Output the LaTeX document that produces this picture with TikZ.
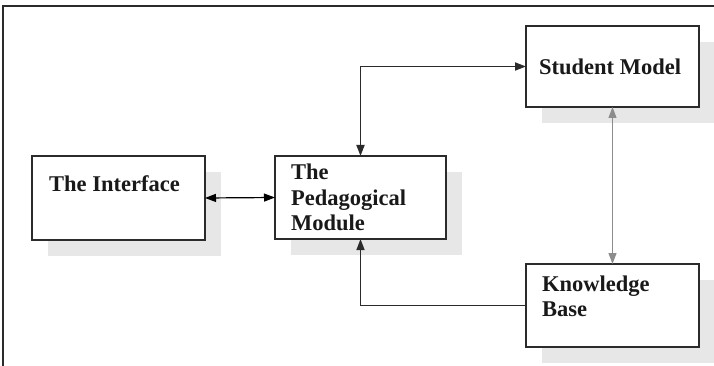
\documentclass[tikz,border=0pt]{standalone}
\usepackage{fontspec}
\setmainfont{Liberation Serif}
\usetikzlibrary{arrows.meta,shadows}
\definecolor{shgray}{HTML}{E6E7E6}
\definecolor{edge}{HTML}{2B2B2B}
\tikzset{
  box/.style={draw=edge, line width=1.5pt, fill=white, inner sep=0pt, outer sep=0pt,
    drop shadow={shadow xshift=16pt, shadow yshift=-16pt, opacity=1, fill=shgray}},
  lbl/.style={anchor=base west, inner sep=0pt, align=left,
    font=\bfseries\fontsize{22.5}{25.7}\selectfont, text=black!90},
  tip/.style={-{Triangle[length=11pt,width=8pt]}},
  dtip/.style={{Triangle[length=11pt,width=8pt]}-{Triangle[length=11pt,width=8pt]}},
}
\begin{document}
\begin{tikzpicture}[x=1pt,y=-1pt]
\useasboundingbox (0,0) rectangle (714,366);
% frame (top and left edges)
\coordinate (fa) at (3,366);
\coordinate (fb) at (3,6);
\coordinate (fc) at (716,6);
\draw[line width=1.6pt, edge] (fa) -- (fb) -- (fc);
% boxes
\node[box, minimum width=173pt, minimum height=84pt] (int) at (118.5,198) {};
\node[box, minimum width=171pt, minimum height=83pt] (ped) at (360.5,197.5) {};
\node[box, minimum width=173pt, minimum height=81pt] (stu) at (612.5,66.5) {};
\node[box, minimum width=173pt, minimum height=83pt] (kb) at (612.5,305.5) {};
% labels (base = baseline of the last line)
\node[lbl] (tint) at (49,191.5) {The Interface};
\node[lbl] (tped) at (291,230.7) {The\\Pedagogical\\Module};
\node[lbl] (tstu) at (539,75) {Student Model};
\node[lbl] (tkb) at (542,316.7) {Knowledge\\Base};
% connectors
\draw[dtip, line width=1.2pt, black] (int.east) -- (ped.west);
\draw[dtip, line width=1.8pt, edge] (ped.north) |- (stu.west);
\draw[dtip, line width=1.1pt, black!45] (stu.south) -- (kb.north);
\draw[tip, line width=1.4pt, edge] (kb.west) -| (ped.south);
\end{tikzpicture}
\end{document}
